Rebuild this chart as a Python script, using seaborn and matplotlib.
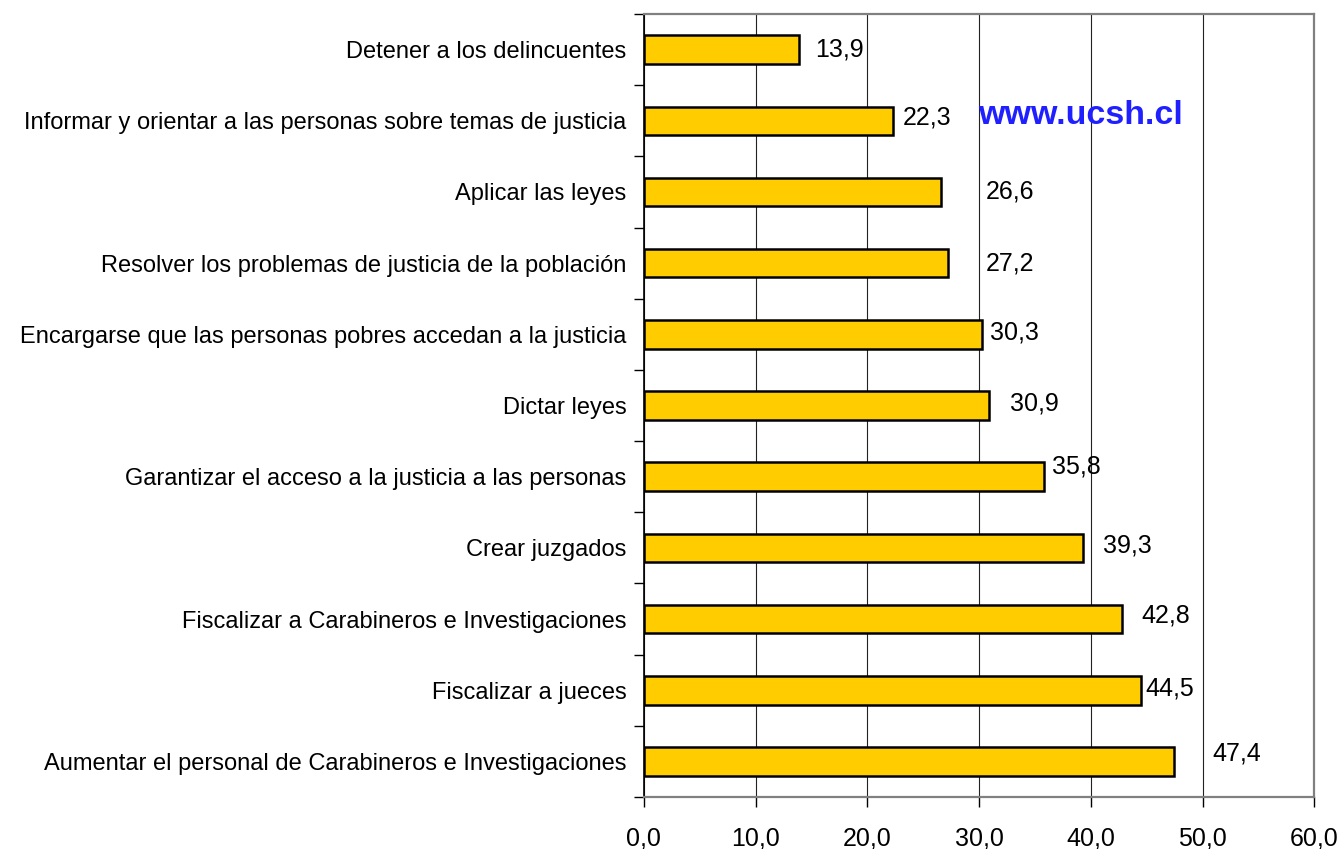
import pandas as pd
import matplotlib.pyplot as plt
import seaborn as sns
from matplotlib.ticker import FixedLocator, FuncFormatter

# Datos
funciones = [
    'Detener a los delincuentes',
    'Informar y orientar a las personas sobre temas de justicia',
    'Aplicar las leyes',
    'Resolver los problemas de justicia de la población',
    'Encargarse que las personas pobres accedan a la justicia',
    'Dictar leyes',
    'Garantizar el acceso a la justicia a las personas',
    'Crear juzgados',
    'Fiscalizar a Carabineros e Investigaciones',
    'Fiscalizar a jueces',
    'Aumentar el personal de Carabineros e Investigaciones',
]
porcentajes = [13.9, 22.3, 26.6, 27.2, 30.3, 30.9, 35.8, 39.3, 42.8, 44.5, 47.4]
ticks_x = [0, 10, 20, 30, 40, 50, 60]

# desplazamiento de las etiquetas (como en el original, no son uniformes)
dx_etiqueta = [1.4, 0.9, 4.0, 3.4, 0.7, 1.9, 0.7, 1.8, 1.7, 0.4, 3.5]
dy_etiqueta = [0.0, -0.04, 0.0, 0.0, -0.02, -0.03, -0.14, -0.04, -0.05, -0.02, -0.11]

df = pd.DataFrame({'Funcion': funciones, 'Porcentaje': porcentajes})

sns.set_style('white', {'text.color': 'black', 'xtick.color': 'black',
                        'ytick.color': 'black', 'axes.labelcolor': 'black'})
plt.rcParams['font.family'] = ['Liberation Sans', 'DejaVu Sans']

fig = plt.figure(figsize=(13.44, 8.49), dpi=100)
ax = fig.add_axes([0.479, 0.0612, 0.499, 0.9223])

sns.barplot(data=df, x='Porcentaje', y='Funcion', color='#FFCC00',
            edgecolor='black', linewidth=1.8, width=0.4, saturation=1, ax=ax)

ax.set_xlim(0, 60)
ax.set_ylim(len(funciones) - 0.5, -0.5)
ax.xaxis.set_major_locator(FixedLocator(ticks_x))
ax.xaxis.set_major_formatter(FuncFormatter(lambda v, p: f'{v:.1f}'.replace('.', ',')))
ax.set_xlabel('')
ax.set_ylabel('')

# lineas verticales de la grilla
ax.grid(axis='x', color='#222222', linewidth=0.8)
ax.set_axisbelow(True)

# marcas del eje y entre categorias
ax.yaxis.set_minor_locator(FixedLocator([i - 0.5 for i in range(len(funciones) + 1)]))
ax.tick_params(axis='y', which='major', length=0, labelsize=17, pad=12.5)
ax.tick_params(axis='y', which='minor', left=True, length=7, width=1, color='black')
ax.tick_params(axis='x', which='major', bottom=True, length=7, width=1, color='black',
               labelsize=18, pad=14)

for lado in ['top', 'right', 'bottom']:
    ax.spines[lado].set_color('#808080')
    ax.spines[lado].set_linewidth(1.6)
ax.spines['left'].set_color('black')
ax.spines['left'].set_linewidth(1.2)

# etiquetas de valor
for i, v in enumerate(porcentajes):
    ax.text(v + dx_etiqueta[i], i + dy_etiqueta[i], f'{v:.1f}'.replace('.', ','),
            ha='left', va='center', fontsize=18)

# marca de agua
fig.text(0.7277, 0.864, 'www.ucsh.cl', color='#1f1fff', fontsize=24.5, fontweight='bold',
         ha='left', va='center')

plt.savefig('out.png', dpi=100)
plt.close()
